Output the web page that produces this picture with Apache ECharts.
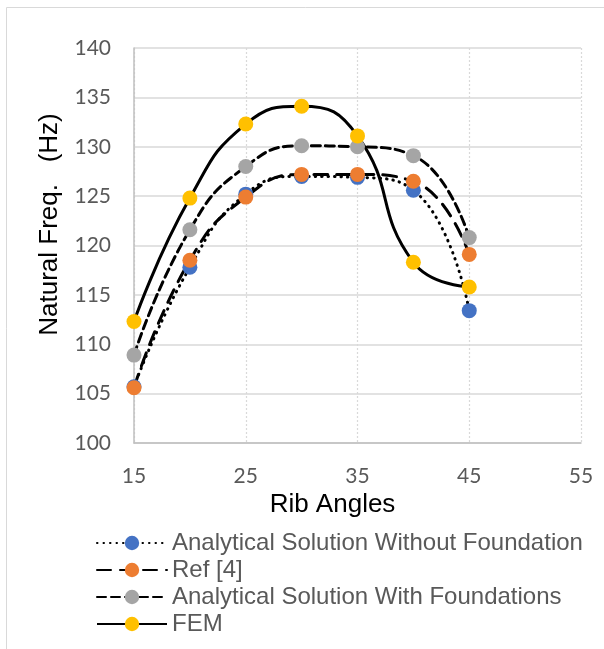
<!DOCTYPE html>
<html>
<head>
<meta charset="utf-8">
<script src="https://cdn.jsdelivr.net/npm/echarts@6/dist/echarts.min.js"></script>
<style>
  html, body { margin: 0; padding: 0; background: #fff; }
  #chart { width: 604px; height: 649px; }
</style>
</head>
<body>
<div id="chart"></div>
<script>
const angles = [15, 20, 25, 30, 35, 40, 45]
const withoutFoundation = [105.7, 117.8, 125.2, 127.0, 126.9, 125.6, 113.4]
const ref4 = [105.6, 118.5, 124.9, 127.2, 127.2, 126.5, 119.1]
const withFoundations = [108.9, 121.6, 128.0, 130.1, 130.0, 129.1, 120.8]
const fem = [112.3, 124.8, 132.3, 134.1, 131.1, 118.3, 115.8]

const seriesNames = [
  'Analytical Solution Without Foundation',
  'Ref [4]',
  'Analytical Solution With Foundations',
  'FEM'
]

const toPoints = vals => angles.map((a, i) => [a, vals[i]])

const makeLine = (name, vals, color, dash) => ({
  name: name,
  type: 'line',
  data: toPoints(vals),
  smooth: 0.5,
  symbol: 'circle',
  symbolSize: 15,
  itemStyle: { color: color },
  lineStyle: { color: '#000', width: 3, type: dash, cap: dash === 'solid' ? 'butt' : 'round' },
  emphasis: { disabled: true }
})

const chart = echarts.init(document.getElementById('chart'))

chart.setOption({
  animation: false,
  graphic: [{
    type: 'rect',
    shape: { x: 6.5, y: 7.5, width: 700, height: 700 },
    style: { fill: 'none', stroke: '#d9d9d9', lineWidth: 1 },
    silent: true
  }],
  grid: { left: 134, right: 23, top: 48, bottom: 206 },
  legend: {
    orient: 'vertical',
    left: 96,
    top: 531,
    padding: 0,
    itemWidth: 70,
    itemHeight: 18,
    itemGap: 3,
    textStyle: { fontFamily: 'Liberation Sans', fontSize: 24, lineHeight: 24, color: '#595959' },
    data: seriesNames
  },
  xAxis: {
    type: 'value',
    min: 15,
    max: 55,
    interval: 10,
    name: 'Rib Angles',
    nameLocation: 'middle',
    nameGap: 49,
    nameTextStyle: { fontFamily: 'Liberation Sans', fontSize: 26, color: '#000', padding: [0, 50, 0, 0] },
    axisLine: { lineStyle: { color: '#bfbfbf', width: 1.5 } },
    axisTick: { show: false },
    axisLabel: { fontFamily: 'Lato', fontSize: 21, color: '#595959', margin: 23 },
    splitLine: { show: true, lineStyle: { color: '#d9d9d9', type: [2, 2], width: 1.2 } }
  },
  yAxis: {
    type: 'value',
    min: 100,
    max: 140,
    interval: 5,
    name: 'Natural Freq.   (Hz)',
    nameLocation: 'middle',
    nameGap: 71,
    nameTextStyle: { fontFamily: 'Liberation Sans', fontSize: 26, color: '#000', padding: [0, 0, 0, 42] },
    axisLine: { show: true, lineStyle: { color: '#bfbfbf', width: 1.5 } },
    axisTick: { show: false },
    axisLabel: { fontFamily: 'Lato', fontSize: 21, color: '#595959', margin: 23 },
    splitLine: { lineStyle: { color: '#d9d9d9', width: 1.5 } }
  },
  series: [
    makeLine(seriesNames[0], withoutFoundation, '#4472C4', [0.5, 6]),
    makeLine(seriesNames[1], ref4, '#ED7D31', [14, 9]),
    makeLine(seriesNames[2], withFoundations, '#A5A5A5', [9, 5]),
    makeLine(seriesNames[3], fem, '#FFC000', 'solid')
  ]
})
</script>
</body>
</html>
